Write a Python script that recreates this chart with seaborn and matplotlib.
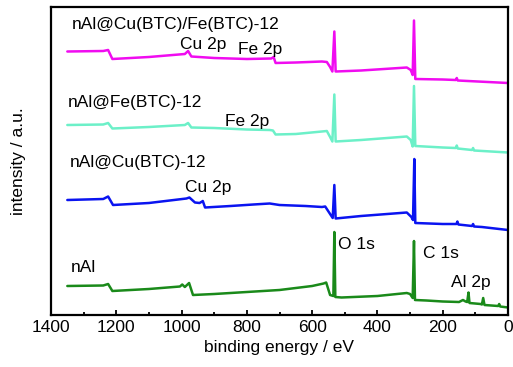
import pandas as pd
import seaborn as sns
import matplotlib.pyplot as plt
from matplotlib.ticker import MultipleLocator

sns.set_style("ticks")
plt.rcParams.update({
    "font.family": ["Liberation Sans", "DejaVu Sans"],
    "font.size": 12.5,
    "axes.linewidth": 1.6,
    "axes.edgecolor": "black",
    "axes.labelcolor": "black",
    "text.color": "black",
    "xtick.color": "black",
    "xtick.direction": "in",
    "xtick.major.size": 3.5,
    "xtick.minor.size": 2.5,
    "xtick.major.width": 1.3,
    "xtick.minor.width": 1.3,
})

# survey spectra (arb. units, already offset)
nal_energy = [1350, 1240, 1225, 1212, 1100, 1005, 998, 990, 977, 965, 900, 800, 700, 600,
              565, 557, 545, 535, 532, 529, 510, 400, 310, 300, 292, 288, 285, 250, 200,
              150, 138, 130, 125, 121, 118, 84, 80, 76, 72, 30, 27, 24, 0]
nal_intensity = [29, 29.5, 31, 24, 26, 28.5, 30.5, 28, 32, 20, 21, 23, 25, 29,
                 31.5, 32.5, 20, 19, 83, 18, 17.5, 19, 22, 21, 17, 74, 15, 14.5, 13.5,
                 13, 15, 13.5, 13, 22.5, 12, 11, 10.5, 17, 10, 9, 11, 8.5, 7.5]

cu_energy = [1350, 1240, 1225, 1210, 1100, 985, 976, 959, 945, 937, 935, 928, 850, 780,
             730, 700, 620, 570, 560, 545, 537, 532, 528, 450, 310, 296, 291, 287, 284,
             200, 158, 155, 152, 110, 107, 104, 80, 0]
cu_intensity = [115, 116, 118.5, 110, 112, 116.5, 117.5, 112.5, 112, 113.5, 114, 107.5, 109, 110.5,
                111.5, 110, 109, 108, 108.5, 101, 97, 130, 96.5, 99, 102.5, 98, 95, 156, 92,
                91, 91, 93.5, 90.5, 89, 91, 88.5, 88, 85]

fe_energy = [1350, 1240, 1225, 1212, 1100, 990, 980, 970, 900, 800, 730, 720, 712, 650,
             570, 555, 545, 538, 532, 528, 450, 310, 298, 292, 288, 284, 200, 160, 157,
             154, 110, 107, 104, 0]
fe_intensity = [190, 190.5, 192, 186.5, 188, 190, 192, 187.5, 187, 185.5, 185, 184.5, 180.5, 181,
                183.5, 184, 178, 173.5, 220.5, 173.5, 175, 178.5, 175, 168.5, 229, 169, 167.5, 167, 169.5,
                166.5, 165, 167, 164.5, 162.5]

cufe_energy = [1350, 1240, 1225, 1212, 1100, 990, 980, 970, 900, 800, 725, 718, 712, 650,
               570, 555, 545, 538, 532, 528, 450, 310, 298, 292, 288, 284, 200, 160, 157,
               154, 0]
cufe_intensity = [263.5, 264, 265, 256, 258, 261, 264, 258.5, 257, 256, 256.5, 258, 252, 252.5,
                  253.5, 253, 248, 243.5, 283.5, 243.5, 244.5, 247.5, 245, 240, 294.5, 236, 235.5, 235, 237,
                  234.5, 232]

samples = ["nAl", "nAl@Cu(BTC)-12", "nAl@Fe(BTC)-12", "nAl@Cu(BTC)/Fe(BTC)-12"]
colors = ["#1a8a1a", "#0a14f0", "#6cf0c8", "#f00cf0"]

frames = []
for name, e, i in zip(samples,
                      [nal_energy, cu_energy, fe_energy, cufe_energy],
                      [nal_intensity, cu_intensity, fe_intensity, cufe_intensity]):
    frames.append(pd.DataFrame({"energy": e, "intensity": i, "sample": name}))
df = pd.concat(frames, ignore_index=True)

fig = plt.figure(figsize=(5.13, 3.67), dpi=100)
ax = fig.add_axes([51 / 513, 52 / 367, 457 / 513, 308 / 367])

sns.lineplot(data=df, x="energy", y="intensity", hue="sample", palette=dict(zip(samples, colors)),
             estimator=None, linewidth=1.8, legend=False, ax=ax)

ax.set_xlim(1400, 0)
ax.set_ylim(0, 308)
ax.xaxis.set_major_locator(MultipleLocator(200))
ax.xaxis.set_minor_locator(MultipleLocator(100))
ax.set_yticks([])
ax.set_xlabel("binding energy / eV", labelpad=4)
ax.set_ylabel("intensity / a.u.", labelpad=18)
for s in ax.spines.values():
    s.set_visible(True)
    s.set_color("black")

# labels
labels = [
    ("nAl@Cu(BTC)/Fe(BTC)-12", 1336, 285.5),
    ("Cu 2p", 1005, 266),
    ("Fe 2p", 826, 261),
    ("nAl@Fe(BTC)-12", 1348, 208.5),
    ("Fe 2p", 867, 189),
    ("nAl@Cu(BTC)-12", 1342, 148.5),
    ("Cu 2p", 989, 123),
    ("nAl", 1339, 43.5),
    ("O 1s", 520, 66),
    ("C 1s", 261, 57.5),
    ("Al 2p", 175, 28.5),
]
for txt, x, y in labels:
    ax.text(x, y, txt, ha="left", va="baseline", fontsize=12.5)

fig.savefig("out.png", dpi=100)
